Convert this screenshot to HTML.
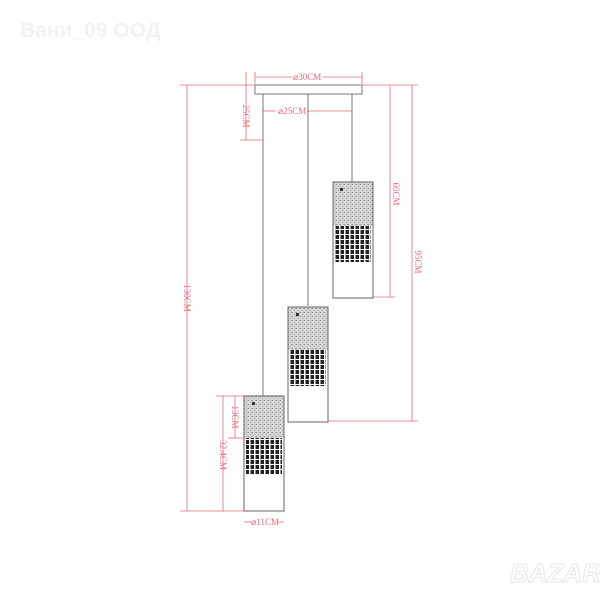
<!DOCTYPE html>
<html><head><meta charset="utf-8"><style>html,body{margin:0;padding:0;background:#fff}svg{display:block}</style></head>
<body>
<svg width="600" height="600" viewBox="0 0 600 600" xmlns="http://www.w3.org/2000/svg">
<defs>
<pattern id="tex" width="4" height="4" patternUnits="userSpaceOnUse">
<rect width="4" height="4" fill="#d8d8d8"/><rect x="0" y="0" width="1" height="1" fill="#888"/><rect x="2" y="2" width="1" height="1" fill="#999"/><rect x="3" y="0" width="1" height="1" fill="#aaa"/>
</pattern>
<pattern id="hex" width="5" height="5" patternUnits="userSpaceOnUse">
<rect width="5" height="5" fill="#fff"/><rect x="0.5" y="0" width="3.5" height="4" fill="#222"/>
</pattern>
</defs>
<text x="20" y="37" font-family="Liberation Sans, DejaVu Sans, sans-serif" font-size="21" font-weight="bold" fill="#f1f2f5">Вани_09 ООД</text>
<text x="510" y="582" font-family="Liberation Sans, sans-serif" font-size="26" font-weight="bold" font-style="italic" fill="#fff" stroke="#e6e6e6" stroke-width="1">BAZAR</text>

<g stroke="#e36b78" stroke-width="0.8" fill="none">
<line x1="180" y1="85" x2="255" y2="85"/><line x1="362" y1="85" x2="418" y2="85"/>
<line x1="180" y1="511" x2="244" y2="511"/>
<line x1="216" y1="396" x2="244" y2="396"/>
<line x1="228" y1="438" x2="244" y2="438"/>
<line x1="373" y1="297" x2="395" y2="297"/>
<line x1="328" y1="421" x2="418" y2="421"/>
<line x1="240" y1="140" x2="262" y2="140"/>
<line x1="187" y1="85" x2="187" y2="511"/>
<line x1="223" y1="396" x2="223" y2="511"/>
<line x1="235" y1="396" x2="235" y2="438"/>
<line x1="390" y1="85" x2="390" y2="297"/>
<line x1="412" y1="85" x2="412" y2="421"/>
<line x1="246" y1="72" x2="246" y2="140"/>
<line x1="255" y1="72" x2="255" y2="84"/><line x1="362" y1="72" x2="362" y2="84"/>
<line x1="255" y1="77" x2="292" y2="77"/><line x1="323" y1="77" x2="362" y2="77"/>
<line x1="263" y1="111" x2="276" y2="111"/><line x1="307" y1="111" x2="352" y2="111"/>
<line x1="244" y1="522" x2="252" y2="522"/><line x1="277" y1="522" x2="284" y2="522"/>
</g>
<g font-family="Liberation Serif, serif" font-size="9" fill="#e36b78">
<text x="307" y="80" text-anchor="middle">⌀30CM</text>
<text x="292" y="114" text-anchor="middle">⌀25CM</text>
<text x="265" y="525" text-anchor="middle">⌀11CM</text>
<text transform="translate(184,298) rotate(90)" text-anchor="middle">130CM</text>
<text transform="translate(243,116) rotate(90)" text-anchor="middle">25CM</text>
<text transform="translate(232,417) rotate(90)" text-anchor="middle">13CM</text>
<text transform="translate(220,455) rotate(90)" text-anchor="middle">32.4CM</text>
<text transform="translate(393,194) rotate(90)" text-anchor="middle">60CM</text>
<text transform="translate(415,262) rotate(90)" text-anchor="middle">95CM</text>
</g>

<g stroke="#777" fill="none" stroke-width="1">
<rect x="255" y="85" width="107" height="9" fill="#fff"/>
<line x1="263" y1="94" x2="263" y2="396"/>
<line x1="308" y1="94" x2="308" y2="306"/>
<line x1="352" y1="94" x2="352" y2="182"/>
</g>

<rect x="333" y="182" width="40" height="44" fill="url(#tex)"/>
<rect x="335" y="226" width="36" height="36" fill="url(#hex)"/>
<rect x="333" y="182" width="40" height="116" fill="none" stroke="#666"/>
<rect x="340" y="188" width="3" height="3" fill="#333"/>
<rect x="288" y="307" width="40" height="43" fill="url(#tex)"/>
<rect x="290" y="350" width="36" height="36" fill="url(#hex)"/>
<rect x="288" y="307" width="40" height="115" fill="none" stroke="#666"/>
<rect x="296" y="313" width="3" height="3" fill="#333"/>
<rect x="244" y="396" width="40" height="42" fill="url(#tex)"/>
<rect x="246" y="438" width="36" height="37" fill="url(#hex)"/>
<rect x="244" y="396" width="40" height="115" fill="none" stroke="#666"/>
<rect x="252" y="402" width="3" height="3" fill="#333"/>
</svg>
</body></html>
